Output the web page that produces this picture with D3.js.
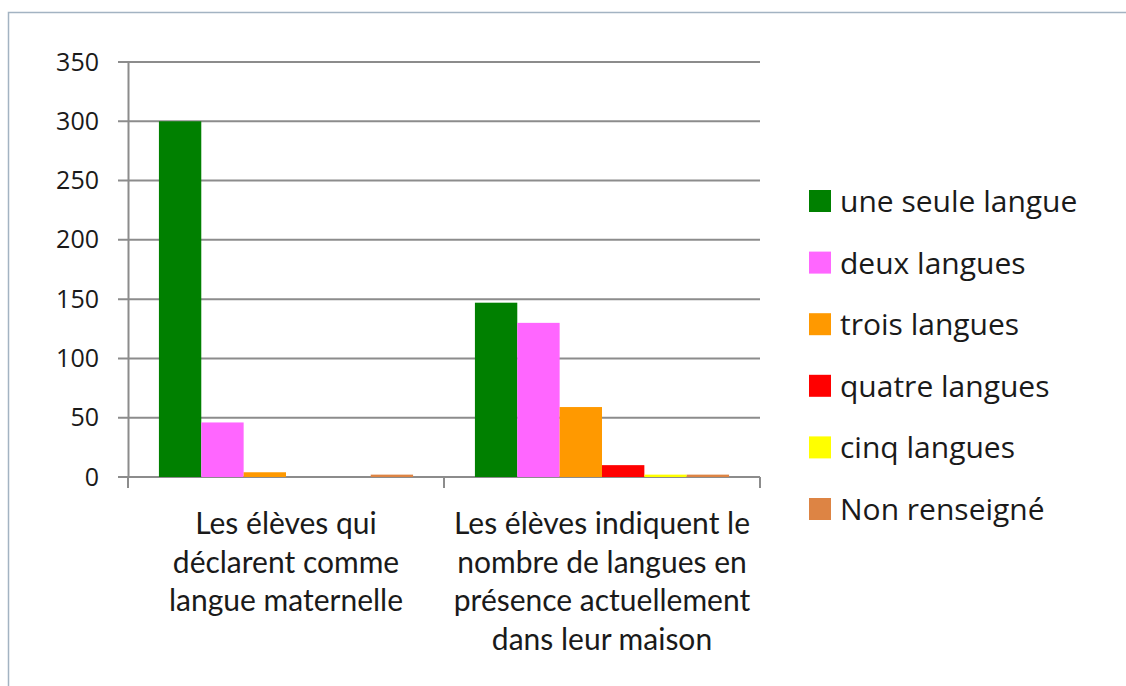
<!DOCTYPE html>
<html>
<head>
<meta charset="utf-8">
<script src="https://cdn.jsdelivr.net/npm/d3@7"></script>
<style>
  body { margin: 0; background: #fff; }
  text { font-family: "Open Sans", Lato, sans-serif; fill: #1a1a1a; }
  .cat { font-family: Lato, "Open Sans", sans-serif; }
</style>
</head>
<body>
<div id="container"></div>
<script>
// data
const categories = [
  'Les élèves qui déclarent comme langue maternelle',
  'Les élèves indiquent le nombre de langues en présence actuellement dans leur maison'
];
const categoryLines = [
  ['Les élèves qui', 'déclarent comme', 'langue maternelle'],
  ['Les élèves indiquent le', 'nombre de langues en', 'présence actuellement', 'dans leur maison']
];
const seriesNames = ['une seule langue', 'deux langues', 'trois langues', 'quatre langues', 'cinq langues', 'Non renseigné'];
const seriesColors = ['#008000', '#ff66ff', '#ff9900', '#ff0000', '#ffff00', '#dd8444'];
const valuesMaternelle = [300, 46, 4, 0, 0, 2];
const valuesMaison = [147, 130, 59, 10, 2, 2];
const yTicks = [0, 50, 100, 150, 200, 250, 300, 350];

const W = 1126, H = 686;
const svg = d3.select('#container').append('svg')
  .attr('width', W).attr('height', H);

// frame
svg.append('rect')
  .attr('x', 8.5).attr('y', 12.5)
  .attr('width', W + 20).attr('height', H + 20)
  .attr('fill', 'none').attr('stroke', '#a3b3c2').attr('stroke-width', 1.5);

const plot = { left: 128, right: 760, top: 62, bottom: 477 };

const x0 = d3.scaleBand().domain(categories).range([plot.left, plot.right]).paddingInner(0).paddingOuter(0);
const x1 = d3.scaleBand().domain(seriesNames).range([0, x0.bandwidth()]).paddingOuter(0.73).paddingInner(0);
const y = d3.scaleLinear().domain([0, 350]).range([plot.bottom, plot.top]);

// gridlines
svg.append('g')
  .selectAll('line')
  .data(yTicks)
  .join('line')
  .attr('x1', plot.left - 10).attr('x2', plot.right)
  .attr('y1', d => y(d)).attr('y2', d => y(d))
  .attr('stroke', '#8c8c8c').attr('stroke-width', 2);

// y axis
const yAxis = svg.append('g')
  .attr('transform', `translate(${plot.left},0)`)
  .call(d3.axisLeft(y).tickValues(yTicks).tickSize(0).tickPadding(29));
yAxis.select('.domain').attr('stroke', '#8c8c8c').attr('stroke-width', 2);
yAxis.selectAll('text').style('font-size', '25px').attr('fill', '#1a1a1a')
  .style('font-family', '"Open Sans", sans-serif');

// x axis
const xAxis = svg.append('g')
  .attr('transform', `translate(0,${plot.bottom})`);
xAxis.append('line')
  .attr('x1', plot.left - 10).attr('x2', plot.right)
  .attr('stroke', '#8c8c8c').attr('stroke-width', 2);
xAxis.selectAll('.sep')
  .data([plot.left, ...categories.map(c => x0(c) + x0.bandwidth())])
  .join('line')
  .attr('class', 'sep')
  .attr('x1', d => d).attr('x2', d => d)
  .attr('y1', 0).attr('y2', 11)
  .attr('stroke', '#8c8c8c').attr('stroke-width', 2);

// bars
const allValues = [valuesMaternelle, valuesMaison];
const groups = svg.append('g')
  .selectAll('g')
  .data(categories)
  .join('g')
  .attr('transform', d => `translate(${x0(d)},0)`);

groups.selectAll('rect')
  .data((d, i) => seriesNames.map((s, j) => ({ s, v: allValues[i][j], c: seriesColors[j] })))
  .join('rect')
  .attr('x', d => x1(d.s))
  .attr('width', x1.bandwidth())
  .attr('y', d => y(d.v))
  .attr('height', d => y(0) - y(d.v))
  .attr('fill', d => d.c);

// category labels
categories.forEach((c, i) => {
  const t = svg.append('text')
    .attr('class', 'cat')
    .attr('text-anchor', 'middle')
    .style('font-size', '30px');
  t.selectAll('tspan')
    .data(categoryLines[i])
    .join('tspan')
    .attr('x', x0(c) + x0.bandwidth() / 2)
    .attr('y', (d, k) => 534 + k * 38.5)
    .text(d => d);
});

// legend
const legend = svg.append('g').attr('transform', 'translate(809,190)');
const item = legend.selectAll('g')
  .data(seriesNames)
  .join('g')
  .attr('transform', (d, i) => `translate(0,${i * 61.6})`);
item.append('rect')
  .attr('width', 22).attr('height', 22)
  .attr('fill', (d, i) => seriesColors[i]);
item.append('text')
  .attr('x', 31).attr('y', 22)
  .style('font-size', '30px')
  .text(d => d);
</script>
</body>
</html>
